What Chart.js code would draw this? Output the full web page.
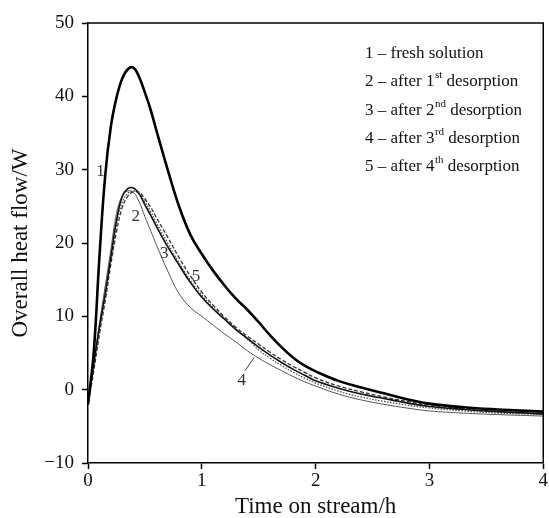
<!DOCTYPE html>
<html><head><meta charset="utf-8">
<script src="https://cdn.jsdelivr.net/npm/chart.js@4/dist/chart.umd.min.js"></script>
<style>html,body{margin:0;padding:0;background:#fff}#wrap{width:549px;height:518px;position:relative}</style>
</head><body><div id="wrap"><canvas id="c" width="549" height="518"></canvas></div>
<script>
const timeH = [0,0.05,0.1,0.15,0.2,0.25,0.3,0.35,0.4,0.45,0.5,0.55,0.6,0.7,0.8,0.9,1.0,1.1,1.2,1.3,1.4,1.5,1.6,1.7,1.8,1.9,2.0,2.2,2.4,2.6,2.8,3.0,3.3,3.6,4.0];
const fresh    = [-2,5,18,29,35.8,39.8,42.4,43.7,43.9,42.6,40.5,38.2,35.4,30.0,25.0,21.1,18.5,16.2,14.2,12.4,10.9,9.2,7.4,5.8,4.4,3.3,2.5,1.2,0.3,-0.5,-1.3,-1.9,-2.4,-2.7,-3.0];
const after1st = [-2,3.5,8.5,13,18,23,26.3,27.4,27.5,26.7,25.2,23.8,22.3,19.5,17.0,14.6,12.6,11.0,9.6,8.2,7.0,5.8,4.7,3.7,2.8,2.0,1.2,0.2,-0.6,-1.2,-1.8,-2.3,-2.7,-3.0,-3.3];
const after2nd = [-2,3.5,9,14,19,24,26.4,27.1,26.9,25.6,23.6,21.7,19.8,16.2,13.1,11.2,10.0,8.8,7.6,6.5,5.3,4.3,3.4,2.6,1.8,1.1,0.5,-0.6,-1.4,-2.0,-2.5,-2.9,-3.2,-3.4,-3.6];
const after3rd = [-2,3,8,12.5,17.5,22.5,25.5,26.8,27.1,26.7,25.6,24.3,22.8,20.0,17.3,14.9,12.9,11.2,9.7,8.2,6.9,5.4,4.3,3.3,2.4,1.6,0.9,-0.2,-1.0,-1.6,-2.1,-2.5,-2.9,-3.2,-3.4];
const after4th = [-2,2.5,7.5,12,17,21.5,24.8,26.4,27.0,26.9,26.0,24.9,23.5,20.8,18.0,15.5,13.3,11.5,9.9,8.5,7.3,6.2,5.1,4.1,3.2,2.4,1.6,0.5,-0.3,-1.0,-1.6,-2.1,-2.6,-3.0,-3.3];
const curveNumbers = ['1','2','3','4','5'];
const curveLabelX = [0.11,0.42,0.67,1.35,0.95];
const curveLabelY = [29.8,23.6,18.6,1.3,15.4];
const legendMain = ['1 \u2013 fresh solution','2 \u2013 after 1','3 \u2013 after 2','4 \u2013 after 3','5 \u2013 after 4'];
const legendSup = ['','st','nd','rd','th'];
const legendTail = ['',' desorption',' desorption',' desorption',' desorption'];
const xTicks = [0,1,2,3,4];
const yTicks = [-10,0,10,20,30,40,50];

const FONT = 'Liberation Serif';
const pts = ys => timeH.map((t,i)=>({x:t,y:ys[i]}));

const frame = {
  id:'frame',
  afterDatasetsDraw(chart){
    const {ctx, chartArea:a, scales:{x,y}} = chart;
    ctx.save();
    ctx.strokeStyle='#000'; ctx.lineWidth=1.5;
    ctx.beginPath();
    ctx.moveTo(a.left,a.top); ctx.lineTo(a.right,a.top); ctx.lineTo(a.right,a.bottom);
    ctx.stroke();
    ctx.fillStyle='#333'; ctx.font='17px "'+FONT+'"'; ctx.textAlign='center'; ctx.textBaseline='middle';
    curveNumbers.forEach((n,i)=>{
      ctx.fillText(n, x.getPixelForValue(curveLabelX[i]), y.getPixelForValue(curveLabelY[i]));
    });
    ctx.strokeStyle='#444'; ctx.lineWidth=1;
    ctx.beginPath();
    ctx.moveTo(x.getPixelForValue(1.38), y.getPixelForValue(2.6));
    ctx.lineTo(x.getPixelForValue(1.46), y.getPixelForValue(4.4));
    ctx.stroke();
    ctx.fillStyle='#111'; ctx.textAlign='left'; ctx.textBaseline='alphabetic';
    const lx = 365; let ly = 58;
    legendMain.forEach((m,i)=>{
      ctx.font='17px "'+FONT+'"';
      ctx.fillText(m, lx, ly);
      const w = ctx.measureText(m).width;
      if(legendSup[i]){
        ctx.font='11px "'+FONT+'"';
        ctx.fillText(legendSup[i], lx+w+0.5, ly-8);
        const ws = ctx.measureText(legendSup[i]).width;
        ctx.font='17px "'+FONT+'"';
        ctx.fillText(legendTail[i], lx+w+ws+0.5, ly);
      }
      ly += 28.3;
    });
    ctx.restore();
  }
};

new Chart(document.getElementById('c'), {
  type:'line',
  data:{datasets:[
    {label:'1', data:pts(fresh), borderColor:'#000', borderWidth:2.6},
    {label:'2', data:pts(after1st), borderColor:'#111', borderWidth:1.6},
    {label:'3', data:pts(after2nd), borderColor:'#555', borderWidth:1},
    {label:'4', data:pts(after3rd), borderColor:'#444', borderWidth:1.2, borderDash:[1.5,1.5]},
    {label:'5', data:pts(after4th), borderColor:'#333', borderWidth:1.3, borderDash:[4,2]}
  ]},
  options:{
    responsive:false, animation:false, devicePixelRatio:1,
    elements:{point:{radius:0}, line:{tension:0.4, fill:false, capBezierPoints:true}},
    layout:{padding:{top:23,right:4,left:0,bottom:0}},
    plugins:{legend:{display:false}, tooltip:{enabled:false}},
    scales:{
      x:{type:'linear', min:0, max:4,
        afterBuildTicks:s=>{s.ticks = xTicks.map(v=>({value:v}));},
        afterFit:s=>{s.height=55;},
        ticks:{color:'#111', font:{family:FONT,size:19}, padding:1, maxRotation:0},
        grid:{drawOnChartArea:false, drawTicks:true, tickLength:6, tickColor:'#000', tickWidth:1.5},
        border:{color:'#000', width:1.5},
        title:{display:true, text:'Time on stream/h', color:'#111', font:{family:FONT,size:23,lineHeight:1}, padding:{top:0,bottom:0}}
      },
      y:{type:'linear', min:-10, max:50,
        afterBuildTicks:s=>{s.ticks = yTicks.map(v=>({value:v}));},
        afterFit:s=>{s.width=88;},
        ticks:{color:'#111', font:{family:FONT,size:19}, padding:8, callback:v=>String(v).replace('-','\u2212')},
        grid:{drawOnChartArea:false, drawTicks:true, tickLength:6, tickColor:'#000', tickWidth:1.5},
        border:{color:'#000', width:1.5},
        title:{display:true, text:'Overall heat flow/W', color:'#111', font:{family:FONT,size:23,lineHeight:1}, padding:{top:9,bottom:0}}
      }
    }
  },
  plugins:[frame]
});
</script></body></html>
